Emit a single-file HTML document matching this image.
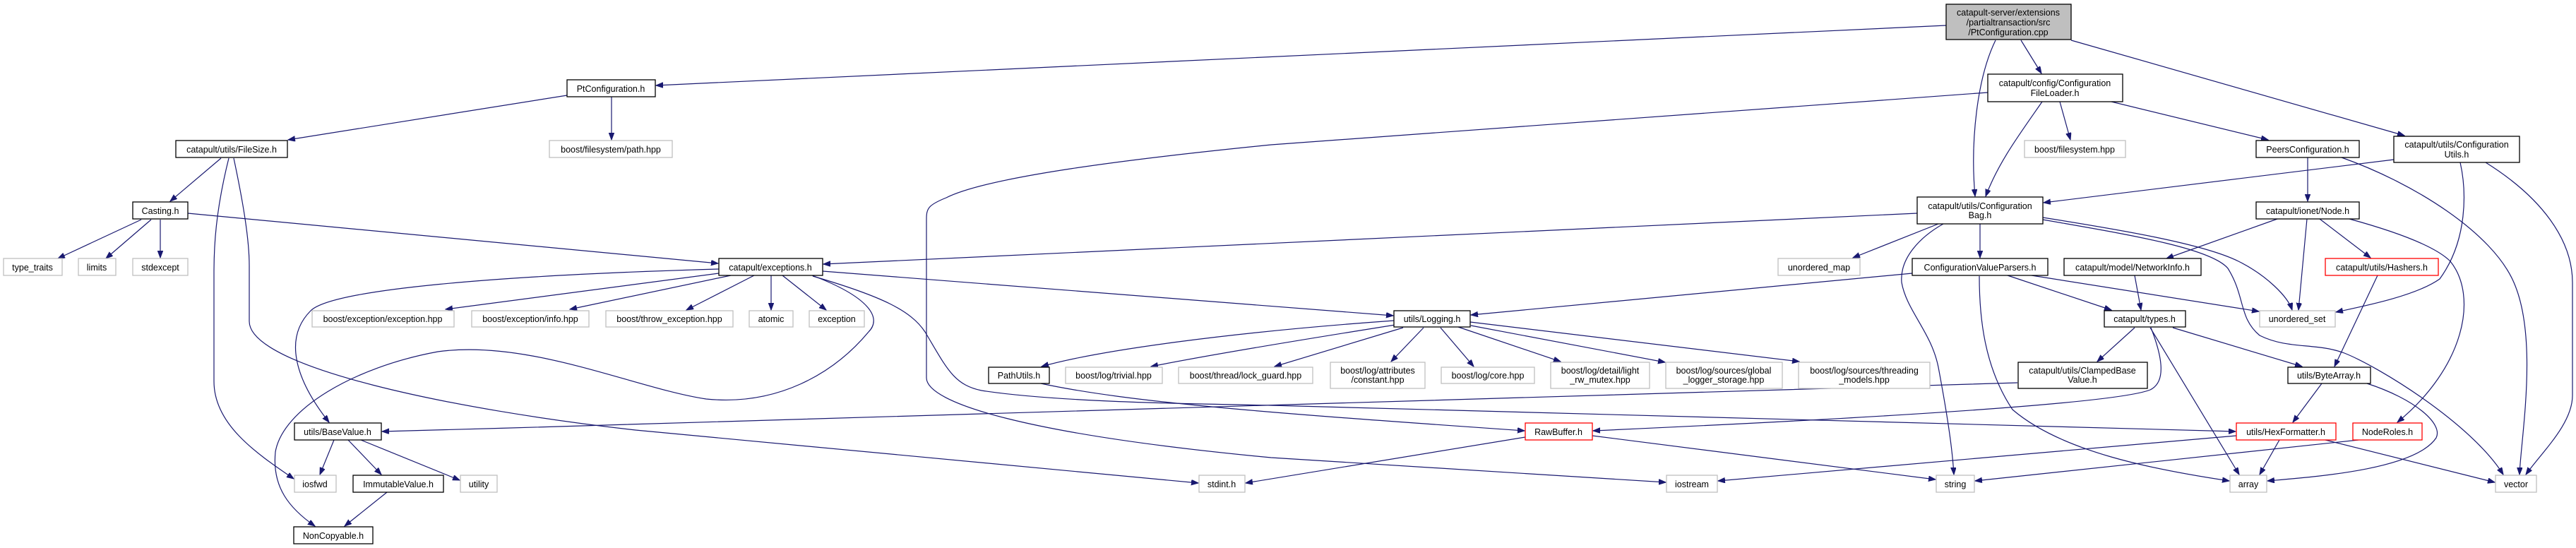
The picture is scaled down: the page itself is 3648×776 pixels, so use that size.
<!DOCTYPE html>
<html><head><meta charset="utf-8"><style>
html,body{margin:0;padding:0;background:#fff;}
svg{display:block;}
text{font-family:"Liberation Sans",Arial,sans-serif;font-size:12.5px;fill:#000;text-anchor:middle;}
.e{fill:none;stroke:#191970;stroke-width:1.2;marker-end:url(#a);}
.n{fill:#fff;stroke:#000;stroke-width:1.3;}
.g{fill:#fff;stroke:#bfbfbf;stroke-width:1.3;}
.r{fill:#fff;stroke:#ff0000;stroke-width:1.3;}
</style></head><body>
<svg width="3648" height="776" viewBox="0 0 3648 776" xmlns="http://www.w3.org/2000/svg">
<defs><marker id="a" markerUnits="userSpaceOnUse" markerWidth="11" markerHeight="8" refX="10" refY="3.75" orient="auto"><path d="M0,0 L10,3.75 L0,7.5 z" fill="#191970" stroke="#191970"/></marker></defs>
<g>
<path class="e" d="M2756,36 L929,121"/>
<path class="e" d="M2862,57 L2891,104"/>
<path class="e" d="M2826,57 C2800,110 2790,200 2797,278"/>
<path class="e" d="M2933,57 L3405,192"/>
<path class="e" d="M803,135 L408,198"/>
<path class="e" d="M866,137 L866,198"/>
<path class="e" d="M313,224 L241,285"/>
<path class="e" d="M324,224 C305,300 303,350 303,386 L303,540 C303,600 360,640 416,678"/>
<path class="e" d="M331,224 C345,290 353,340 353,376 L353,455 C353,520 640,580 900,609 L1697,684"/>
<path class="e" d="M200,311 L82,366"/>
<path class="e" d="M214,311 L150,366"/>
<path class="e" d="M227,311 L227,365"/>
<path class="e" d="M266,302 L1017,373"/>
<path class="e" d="M1018,387 L631,438"/>
<path class="e" d="M1035,390 L807,438"/>
<path class="e" d="M1068,390 L972,439"/>
<path class="e" d="M1092,390 L1092,439"/>
<path class="e" d="M1108,390 L1170,439"/>
<path class="e" d="M1018,381 C700,390 470,410 440,440 C400,480 420,540 466,598"/>
<path class="e" d="M1150,390 C1230,420 1250,450 1230,470 C1180,530 1100,575 1000,565 C900,550 750,480 620,498 C500,520 400,580 390,640 C385,690 410,720 446,745"/>
<path class="e" d="M1165,384 L1973,447"/>
<path class="e" d="M1151,391 C1250,420 1290,440 1310,470 C1340,520 1350,545 1390,553 C1500,570 1700,572 1800,574 L3166,611"/>
<path class="e" d="M1474,543 C1600,570 1800,585 2159,610"/>
<path class="e" d="M2857,542 C2500,555 1500,585 541,611"/>
<path class="e" d="M1974,454 C1750,470 1560,495 1475,519"/>
<path class="e" d="M1976,460 C1850,480 1700,505 1630,519"/>
<path class="e" d="M1987,464 L1805,519"/>
<path class="e" d="M2016,464 L1970,512"/>
<path class="e" d="M2040,464 L2087,519"/>
<path class="e" d="M2065,463 L2210,512"/>
<path class="e" d="M2083,461 L2358,513"/>
<path class="e" d="M2082,456 L2548,512"/>
<path class="e" d="M2708,387 L2083,446"/>
<path class="e" d="M2715,302 L1166,374"/>
<path class="e" d="M2815,131 L1800,205 C1600,225 1400,250 1340,280 C1315,290 1312,295 1312,310 L1312,535 C1312,570 1450,615 1800,648 L2359,683"/>
<path class="e" d="M2160,619 L1764,684"/>
<path class="e" d="M2255,617 L2741,679"/>
<path class="e" d="M3167,617 L2433,681"/>
<path class="e" d="M3046,464 C3060,500 3070,540 3045,552 C3000,570 2700,590 2256,610"/>
<path class="e" d="M2752,317 C2720,335 2690,365 2693,400 C2700,440 2735,470 2745,520 C2760,600 2765,640 2767,672"/>
<path class="e" d="M2745,317 L2624,365"/>
<path class="e" d="M2804,317 L2804,365"/>
<path class="e" d="M2893,308 C3000,325 3120,345 3170,370 C3210,390 3240,420 3246,439"/>
<path class="e" d="M2893,311 C3000,330 3130,350 3155,380 C3180,420 3170,450 3200,475 C3240,495 3280,485 3320,500 C3370,520 3500,600 3545,672"/>
<path class="e" d="M2843,390 L2990,439"/>
<path class="e" d="M2877,390 L3199,441"/>
<path class="e" d="M2803,391 C2803,450 2810,520 2850,580 C2920,640 3050,665 3157,681"/>
<path class="e" d="M2892,144 C2860,190 2830,230 2812,278"/>
<path class="e" d="M2917,144 L2932,198"/>
<path class="e" d="M2990,144 L3212,198"/>
<path class="e" d="M3390,226 L2894,287"/>
<path class="e" d="M3484,230 C3493,270 3495,340 3455,395 C3420,420 3340,435 3308,442"/>
<path class="e" d="M3520,230 C3600,280 3643,340 3643,400 L3643,560 C3643,600 3600,640 3577,672"/>
<path class="e" d="M3268,223 L3268,285"/>
<path class="e" d="M3316,223 C3420,260 3530,330 3560,400 C3595,480 3570,620 3568,672"/>
<path class="e" d="M3225,310 L3068,366"/>
<path class="e" d="M3267,310 L3255,439"/>
<path class="e" d="M3285,310 L3357,365"/>
<path class="e" d="M3327,310 C3400,330 3450,350 3470,370 C3510,420 3490,520 3395,598"/>
<path class="e" d="M3023,390 L3032,439"/>
<path class="e" d="M3367,390 L3306,519"/>
<path class="e" d="M3023,464 L2970,512"/>
<path class="e" d="M3077,464 L3260,519"/>
<path class="e" d="M3045,464 L3171,672"/>
<path class="e" d="M3288,543 L3247,598"/>
<path class="e" d="M3352,543 C3420,565 3460,600 3450,620 C3420,665 3280,675 3211,681"/>
<path class="e" d="M3228,623 L3200,672"/>
<path class="e" d="M3293,623 L3533,683"/>
<path class="e" d="M3340,623 L2797,681"/>
<path class="e" d="M473,623 L453,672"/>
<path class="e" d="M493,623 L540,672"/>
<path class="e" d="M511,623 L651,680"/>
<path class="e" d="M548,697 L488,745"/>
</g>
<g>
<rect x="2756" y="6" width="177" height="50" fill="#bfbfbf" stroke="#000" stroke-width="1.3"/>
<text x="2844" y="22">catapult-server/extensions</text><text x="2844" y="36">/partialtransaction/src</text><text x="2844" y="50">/PtConfiguration.cpp</text>

<rect class="n" x="803" y="113" width="125" height="24"/><text x="865" y="130">PtConfiguration.h</text>
<rect class="g" x="778" y="199" width="174" height="24"/><text x="865" y="216">boost/filesystem/path.hpp</text>
<rect class="n" x="249" y="199" width="158" height="24"/><text x="328" y="216">catapult/utils/FileSize.h</text>
<rect class="n" x="188" y="286" width="78" height="24"/><text x="227" y="303">Casting.h</text>
<rect class="g" x="5" y="366" width="83" height="24"/><text x="46" y="383">type_traits</text>
<rect class="g" x="111" y="366" width="53" height="24"/><text x="137" y="383">limits</text>
<rect class="g" x="188" y="366" width="78" height="24"/><text x="227" y="383">stdexcept</text>
<rect class="n" x="1018" y="366" width="147" height="24"/><text x="1091" y="383">catapult/exceptions.h</text>
<rect class="g" x="442" y="440" width="201" height="23"/><text x="542" y="456">boost/exception/exception.hpp</text>
<rect class="g" x="668" y="440" width="166" height="23"/><text x="751" y="456">boost/exception/info.hpp</text>
<rect class="g" x="858" y="440" width="180" height="23"/><text x="948" y="456">boost/throw_exception.hpp</text>
<rect class="g" x="1061" y="440" width="62" height="23"/><text x="1092" y="456">atomic</text>
<rect class="g" x="1146" y="440" width="78" height="23"/><text x="1185" y="456">exception</text>
<rect class="n" x="417" y="599" width="123" height="24"/><text x="478" y="616">utils/BaseValue.h</text>
<rect class="g" x="417" y="673" width="59" height="24"/><text x="446" y="690">iosfwd</text>
<rect class="n" x="500" y="673" width="128" height="24"/><text x="564" y="690">ImmutableValue.h</text>
<rect class="g" x="652" y="673" width="52" height="24"/><text x="678" y="690">utility</text>
<rect class="n" x="416" y="746" width="112" height="24"/><text x="472" y="763">NonCopyable.h</text>
<rect class="n" x="1400" y="520" width="86" height="23"/><text x="1443" y="536">PathUtils.h</text>
<rect class="g" x="1509" y="520" width="137" height="23"/><text x="1577" y="536">boost/log/trivial.hpp</text>
<rect class="g" x="1669" y="520" width="190" height="23"/><text x="1764" y="536">boost/thread/lock_guard.hpp</text>
<rect class="g" x="1698" y="673" width="65" height="24"/><text x="1730" y="690">stdint.h</text>
<rect class="n" x="1974" y="440" width="108" height="23"/><text x="2028" y="456">utils/Logging.h</text>
<rect class="g" x="1884" y="513" width="134" height="37"/><text x="1951" y="529">boost/log/attributes</text><text x="1951" y="542">/constant.hpp</text>
<rect class="g" x="2041" y="520" width="132" height="23"/><text x="2107" y="536">boost/log/core.hpp</text>
<rect class="g" x="2196" y="513" width="140" height="37"/><text x="2266" y="529">boost/log/detail/light</text><text x="2266" y="542">_rw_mutex.hpp</text>
<rect class="g" x="2359" y="513" width="165" height="37"/><text x="2441" y="529">boost/log/sources/global</text><text x="2441" y="542">_logger_storage.hpp</text>
<rect class="g" x="2547" y="513" width="186" height="37"/><text x="2640" y="529">boost/log/sources/threading</text><text x="2640" y="542">_models.hpp</text>
<rect class="g" x="2518" y="366" width="116" height="24"/><text x="2576" y="383">unordered_map</text>
<rect class="r" x="2160" y="599" width="95" height="24"/><text x="2207" y="616">RawBuffer.h</text>
<rect class="g" x="2360" y="673" width="72" height="24"/><text x="2396" y="690">iostream</text>
<rect class="n" x="2815" y="105" width="191" height="39"/><text x="2910" y="122">catapult/config/Configuration</text><text x="2910" y="136">FileLoader.h</text>
<rect class="g" x="2867" y="199" width="143" height="24"/><text x="2938" y="216">boost/filesystem.hpp</text>
<rect class="n" x="3195" y="199" width="146" height="24"/><text x="3268" y="216">PeersConfiguration.h</text>
<rect class="n" x="3390" y="193" width="178" height="37"/><text x="3479" y="209">catapult/utils/Configuration</text><text x="3479" y="223">Utils.h</text>
<rect class="n" x="2715" y="279" width="178" height="38"/><text x="2804" y="296">catapult/utils/Configuration</text><text x="2804" y="309">Bag.h</text>
<rect class="n" x="3195" y="286" width="146" height="24"/><text x="3268" y="303">catapult/ionet/Node.h</text>
<rect class="n" x="2708" y="366" width="192" height="24"/><text x="2804" y="383">ConfigurationValueParsers.h</text>
<rect class="n" x="2923" y="366" width="194" height="24"/><text x="3020" y="383">catapult/model/NetworkInfo.h</text>
<rect class="r" x="3293" y="366" width="160" height="24"/><text x="3373" y="383">catapult/utils/Hashers.h</text>
<rect class="n" x="2980" y="440" width="115" height="23"/><text x="3037" y="456">catapult/types.h</text>
<rect class="g" x="3200" y="440" width="107" height="23"/><text x="3253" y="456">unordered_set</text>
<rect class="n" x="2858" y="513" width="183" height="37"/><text x="2949" y="529">catapult/utils/ClampedBase</text><text x="2949" y="542">Value.h</text>
<rect class="n" x="3240" y="520" width="117" height="23"/><text x="3298" y="536">utils/ByteArray.h</text>
<rect class="r" x="3167" y="599" width="141" height="24"/><text x="3237" y="616">utils/HexFormatter.h</text>
<rect class="r" x="3332" y="599" width="98" height="24"/><text x="3381" y="616">NodeRoles.h</text>
<rect class="g" x="2742" y="673" width="54" height="24"/><text x="2769" y="690">string</text>
<rect class="g" x="3158" y="673" width="52" height="24"/><text x="3184" y="690">array</text>
<rect class="g" x="3534" y="673" width="58" height="24"/><text x="3563" y="690">vector</text>
</g>
</svg>
</body></html>
